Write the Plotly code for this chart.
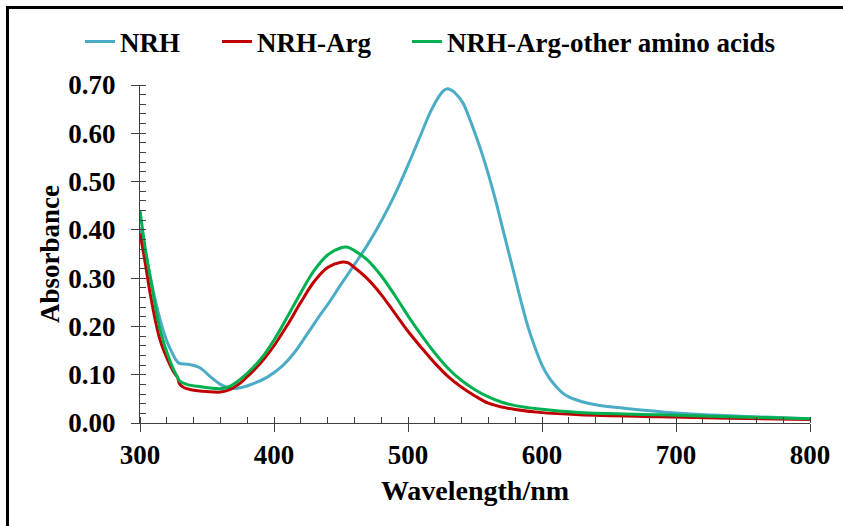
import plotly.graph_objects as go

# ---- data ----
nrh_wl = [300, 305, 308, 315, 320, 323, 327, 329, 337, 345, 352, 360, 367, 375, 385, 395, 405, 415, 425, 435,
          440, 450, 460, 470, 480, 490, 500, 510, 517, 523, 526, 529, 532, 535, 541, 545, 550, 555, 560, 565,
          570, 575, 580, 585, 590, 595, 600, 605, 610, 615, 620, 630, 640, 660, 690, 740, 800]
nrh_abs = [0.405, 0.34, 0.297, 0.214, 0.17, 0.151, 0.13, 0.124, 0.121, 0.114, 0.097, 0.080, 0.072, 0.073, 0.082,
           0.095, 0.115, 0.145, 0.185, 0.226, 0.245, 0.287, 0.328, 0.370, 0.418, 0.472, 0.534, 0.600, 0.646, 0.676,
           0.687, 0.692, 0.690, 0.684, 0.663, 0.637, 0.600, 0.560, 0.515, 0.465, 0.410, 0.355, 0.300, 0.245, 0.195,
           0.155, 0.120, 0.095, 0.077, 0.063, 0.054, 0.044, 0.038, 0.031, 0.023, 0.015, 0.009]

arg_wl = [300, 304, 308, 315, 323, 326.5, 328, 329.5, 333, 338, 350, 360, 367, 375, 380, 390, 400, 410, 420, 430,
          440, 450, 455, 460, 470, 480, 490, 500, 510, 520, 530, 540, 550, 560, 570, 580, 598, 628, 688, 740, 800]
arg_abs = [0.393, 0.33, 0.262, 0.172, 0.117, 0.1, 0.095, 0.081, 0.073, 0.069, 0.065, 0.064, 0.069, 0.083, 0.096,
           0.124, 0.160, 0.203, 0.250, 0.293, 0.322, 0.333, 0.332, 0.322, 0.298, 0.266, 0.228, 0.190, 0.156, 0.124,
           0.096, 0.074, 0.056, 0.041, 0.033, 0.028, 0.022, 0.017, 0.013, 0.010, 0.007]

oth_wl = [300, 304, 308, 315, 323, 327.7, 330, 336, 343, 360, 367, 380, 390, 400, 410, 420, 430, 440, 450, 455,
          460, 470, 480, 490, 500, 510, 520, 530, 540, 550, 560, 570, 580, 598, 628, 688, 740, 800]
oth_abs = [0.44, 0.36, 0.297, 0.193, 0.124, 0.096, 0.086, 0.079, 0.076, 0.071, 0.076, 0.103, 0.132, 0.172, 0.220,
           0.270, 0.316, 0.348, 0.363, 0.364, 0.357, 0.337, 0.305, 0.265, 0.222, 0.182, 0.145, 0.113, 0.088, 0.069,
           0.054, 0.043, 0.036, 0.029, 0.022, 0.017, 0.013, 0.009]

x_ticks = [300, 400, 500, 600, 700, 800]
y_ticks = [0.0, 0.1, 0.2, 0.3, 0.4, 0.5, 0.6, 0.7]

# ---- figure ----
W, H = 843, 526
L, R, T, B = 140, 33, 85, 103
FONT = "Liberation Serif, Times New Roman, serif"
AX = "#404040"
FS = 27

pw = W - L - R
ph = H - T - B
def px2paper_x(px):
    return (px - L) / pw
def px2paper_y(py):
    return (H - B - py) / ph

tf = dict(family=FONT, size=FS, color="black", weight="bold")

fig = go.Figure()
series = [
    ("NRH", nrh_wl, nrh_abs, "#4bacc6", "legend", 85),
    ("NRH-Arg", arg_wl, arg_abs, "#c00000", "legend2", 222),
    ("NRH-Arg-other amino acids", oth_wl, oth_abs, "#00b050", "legend3", 412),
]
legends = {}
for name, xs, ys, col, lg, lx in series:
    fig.add_trace(go.Scatter(x=xs, y=ys, mode="lines", name=name, legend=lg,
                             line=dict(color=col, width=3, shape="spline", smoothing=1.0)))
    legends[lg] = dict(orientation="h", x=px2paper_x(lx - 5), y=px2paper_y(42), xanchor="left",
                       yanchor="middle", font=tf, bgcolor="rgba(0,0,0,0)", borderwidth=0,
                       itemwidth=30)

fig.update_layout(
    width=W, height=H,
    margin=dict(l=L, r=R, t=T, b=B),
    paper_bgcolor="white", plot_bgcolor="white",
    font=tf,
    showlegend=True,
    **legends,
    xaxis=dict(range=[300, 800], tickvals=x_ticks, ticktext=[str(v) for v in x_ticks],
               showgrid=False, zeroline=False, showline=True, linecolor=AX, linewidth=1,
               ticks="outside", ticklen=8, tickcolor=AX, tickwidth=1, ticklabelstandoff=0,
               minor=dict(ticks="inside", dtick=20, ticklen=6, tickcolor=AX, tickwidth=1, showgrid=False),
               tickfont=tf,
               title=dict(text="Wavelength/nm", standoff=10, font=dict(family=FONT, size=28, color="black", weight="bold"))),
    yaxis=dict(range=[0, 0.70], tickvals=y_ticks, ticktext=[f"{v:.2f}" for v in y_ticks],
               showgrid=False, zeroline=False, showline=True, linecolor=AX, linewidth=1,
               ticks="outside", ticklen=8, tickcolor=AX, tickwidth=1, ticklabelstandoff=10,
               minor=dict(ticks="inside", dtick=0.02, ticklen=6, tickcolor=AX, tickwidth=1, showgrid=False),
               tickfont=tf,
               title=dict(text="Absorbance", standoff=0, font=tf)),
    shapes=[
        dict(type="line", xref="paper", yref="paper", x0=px2paper_x(7.5), x1=px2paper_x(7.5),
             y0=px2paper_y(6), y1=px2paper_y(540), line=dict(color="black", width=3)),
        dict(type="line", xref="paper", yref="paper", x0=px2paper_x(6), x1=px2paper_x(860),
             y0=px2paper_y(7.5), y1=px2paper_y(7.5), line=dict(color="black", width=3)),
    ],
)

fig.write_html("out.html")
